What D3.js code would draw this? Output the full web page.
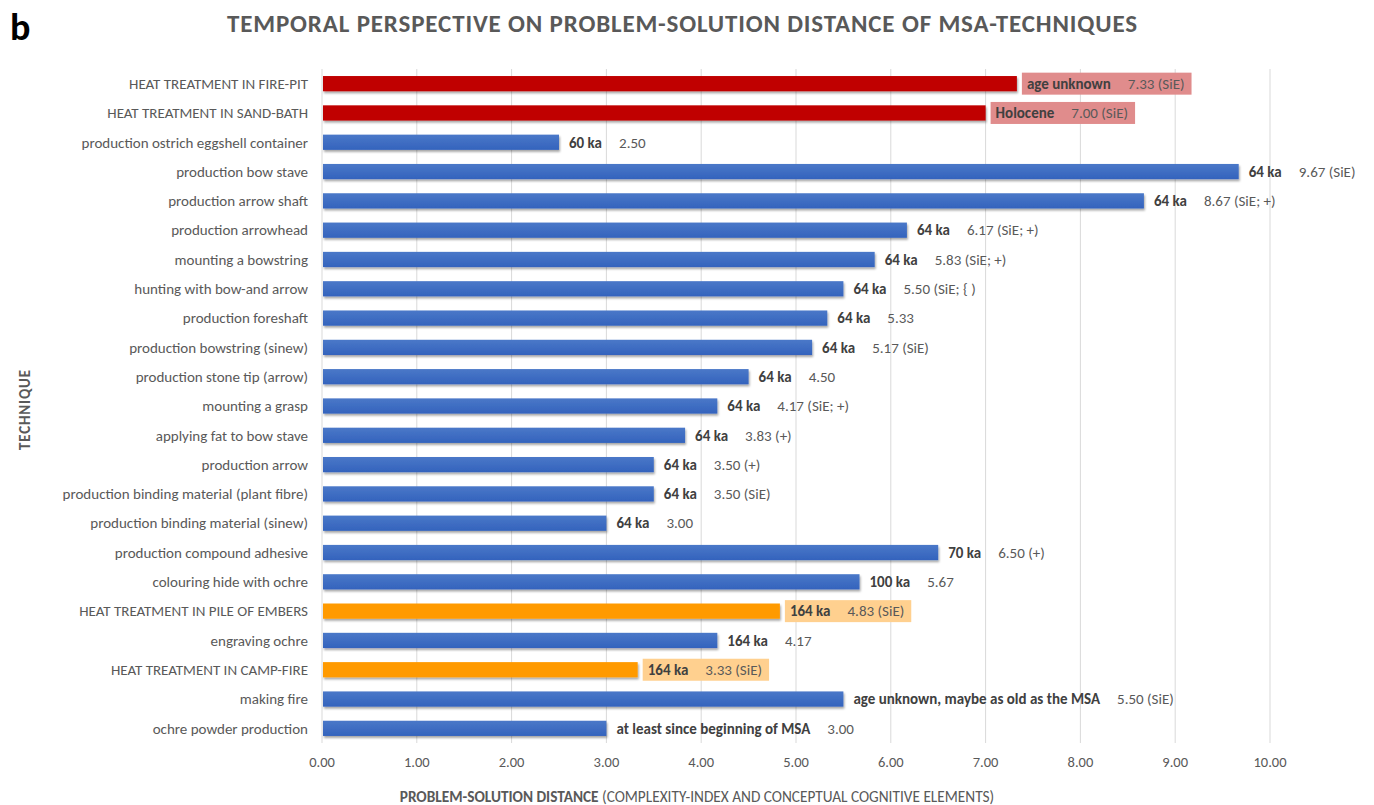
<!DOCTYPE html>
<html>
<head>
<meta charset="utf-8">
<script src="https://cdn.jsdelivr.net/npm/d3@7"></script>
<style>
  body { margin: 0; background: #fff; }
  svg text { font-family: Carlito, Calibri, Lato, "Open Sans", sans-serif; }
</style>
</head>
<body>
<svg id="chart" width="1374" height="805"></svg>
<script>
// values, top to bottom
let techniques = [
    'HEAT TREATMENT IN FIRE-PIT',
    'HEAT TREATMENT IN SAND-BATH',
    'production ostrich eggshell container',
    'production bow stave',
    'production arrow shaft',
    'production arrowhead',
    'mounting a bowstring',
    'hunting with bow-and arrow',
    'production foreshaft',
    'production bowstring (sinew)',
    'production stone tip (arrow)',
    'mounting a grasp',
    'applying fat to bow stave',
    'production arrow',
    'production binding material (plant fibre)',
    'production binding material (sinew)',
    'production compound adhesive',
    'colouring hide with ochre',
    'HEAT TREATMENT IN PILE OF EMBERS',
    'engraving ochre',
    'HEAT TREATMENT IN CAMP-FIRE',
    'making fire',
    'ochre powder production'
]
let distance = [7.33, 7.00, 2.50, 9.67, 8.67, 6.17, 5.83, 5.50, 5.33, 5.17, 4.50, 4.17,
    3.83, 3.50, 3.50, 3.00, 6.50, 5.67, 4.83, 4.17, 3.33, 5.50, 3.00]
let ages = ['age unknown', 'Holocene', '60 ka', '64 ka', '64 ka', '64 ka', '64 ka', '64 ka',
    '64 ka', '64 ka', '64 ka', '64 ka', '64 ka', '64 ka', '64 ka', '64 ka', '70 ka', '100 ka',
    '164 ka', '164 ka', '164 ka', 'age unknown, maybe as old as the MSA',
    'at least since beginning of MSA']
let notes = ['(SiE)', '(SiE)', '', '(SiE)', '(SiE; +)', '(SiE; +)', '(SiE; +)', '(SiE; { )',
    '', '(SiE)', '', '(SiE; +)', '(+)', '(+)', '(SiE)', '', '(+)', '', '(SiE)', '', '(SiE)',
    '(SiE)', '']
// group: 'heat-late' red, 'heat-early' orange, other blue
let groups = ['heat-late', 'heat-late', 'msa', 'msa', 'msa', 'msa', 'msa', 'msa', 'msa', 'msa',
    'msa', 'msa', 'msa', 'msa', 'msa', 'msa', 'msa', 'msa', 'heat-early', 'msa', 'heat-early',
    'msa', 'msa']
let x_ticks = [0, 1, 2, 3, 4, 5, 6, 7, 8, 9, 10]

let bar_fill = { 'heat-late': '#c00000', 'heat-early': '#ff9a00', 'msa': 'url(#blue-grad)' }
let box_fill = { 'heat-late': '#e08c8c', 'heat-early': '#ffd08f' }

let rows = techniques.map((t, i) => ({
    name: t, value: distance[i], age: ages[i], note: notes[i], group: groups[i]
}))

let margin = { l: 322, r: 104, t: 69, b: 62 }
let width = 1374, height = 805

let svg = d3.select('#chart')

let defs = svg.append('defs')
let grad = defs.append('linearGradient').attr('id', 'blue-grad')
    .attr('x1', 0).attr('x2', 0).attr('y1', 0).attr('y2', 1)
grad.append('stop').attr('offset', '0%').attr('stop-color', '#4a78c8')
grad.append('stop').attr('offset', '100%').attr('stop-color', '#3463bd')

let shadow = defs.append('filter').attr('id', 'shadow')
    .attr('x', '-5%').attr('y', '-30%').attr('width', '110%').attr('height', '180%')
shadow.append('feDropShadow').attr('dx', 1).attr('dy', 2).attr('stdDeviation', 1.2)
    .attr('flood-color', '#000').attr('flood-opacity', 0.35)

let x = d3.scaleLinear().domain([0, 10]).range([margin.l, width - margin.r])
let y = d3.scaleBand().domain(techniques).range([margin.t, height - margin.b])
    .paddingInner(0.48).paddingOuter(0.24)

// grid
svg.append('g').selectAll('line').data(x_ticks).join('line')
    .attr('x1', d => x(d)).attr('x2', d => x(d))
    .attr('y1', margin.t).attr('y2', height - margin.b)
    .attr('stroke', '#d9d9d9').attr('stroke-width', 1)

// tick labels
svg.append('g').selectAll('text').data(x_ticks).join('text')
    .attr('x', d => x(d)).attr('y', 767)
    .attr('text-anchor', 'middle')
    .attr('font-size', 14.5).attr('fill', '#595959')
    .text(d => d3.format('.2f')(d))

// category labels
svg.append('g').selectAll('text').data(rows).join('text')
    .attr('x', 308).attr('y', d => y(d.name) + y.bandwidth() / 2)
    .attr('dy', '0.35em')
    .attr('text-anchor', 'end')
    .attr('font-size', 15).attr('fill', '#595959')
    .text(d => d.name)

// bars
svg.append('g').selectAll('rect').data(rows).join('rect')
    .attr('x', x(0) + 1).attr('y', d => y(d.name))
    .attr('width', d => x(d.value) - x(0) - 1)
    .attr('height', y.bandwidth())
    .attr('fill', d => bar_fill[d.group])
    .attr('filter', 'url(#shadow)')

// data labels
let lab = svg.append('g').selectAll('g').data(rows).join('g')
    .attr('transform', d => `translate(${x(d.value)}, ${y(d.name) + y.bandwidth() / 2})`)

let lab_text = lab.append('text')
    .attr('x', 10).attr('dy', '0.35em')
    .attr('font-size', 15)
lab_text.append('tspan')
    .attr('font-weight', 'bold').attr('fill', '#404040')
    .text(d => d.age)
lab_text.append('tspan')
    .attr('dx', 17).attr('fill', '#595959')
    .text(d => d3.format('.2f')(d.value) + (d.note ? ' ' + d.note : ''))

lab.filter(d => box_fill[d.group]).each(function(d) {
    let g = d3.select(this)
    let bb = g.select('text').node().getBBox()
    g.insert('rect', 'text')
        .attr('x', 5).attr('y', -11)
        .attr('width', bb.width + 12).attr('height', 22)
        .attr('fill', box_fill[d.group])
})

// title
svg.append('text')
    .attr('x', 682).attr('y', 32)
    .attr('text-anchor', 'middle')
    .attr('font-size', 25).attr('font-weight', 'bold').attr('fill', '#595959')
    .attr('textLength', 910).attr('lengthAdjust', 'spacing')
    .text('TEMPORAL PERSPECTIVE ON PROBLEM-SOLUTION DISTANCE OF MSA-TECHNIQUES')

svg.append('text')
    .attr('x', 10).attr('y', 40)
    .attr('font-size', 38).attr('font-weight', 'bold').attr('fill', '#000')
    .text('b')

// axis titles
let xt = svg.append('text')
    .attr('x', 697).attr('y', 802)
    .attr('text-anchor', 'middle')
    .attr('font-size', 15.3).attr('fill', '#595959')
xt.append('tspan').attr('font-weight', 'bold').text('PROBLEM-SOLUTION DISTANCE')
xt.append('tspan').text(' (COMPLEXITY-INDEX AND CONCEPTUAL COGNITIVE ELEMENTS)')

svg.append('text')
    .attr('transform', 'translate(30, 410) rotate(-90)')
    .attr('text-anchor', 'middle')
    .attr('font-size', 15).attr('font-weight', 'bold').attr('fill', '#595959')
    .attr('textLength', 80).attr('lengthAdjust', 'spacing')
    .text('TECHNIQUE')
</script>
</body>
</html>
